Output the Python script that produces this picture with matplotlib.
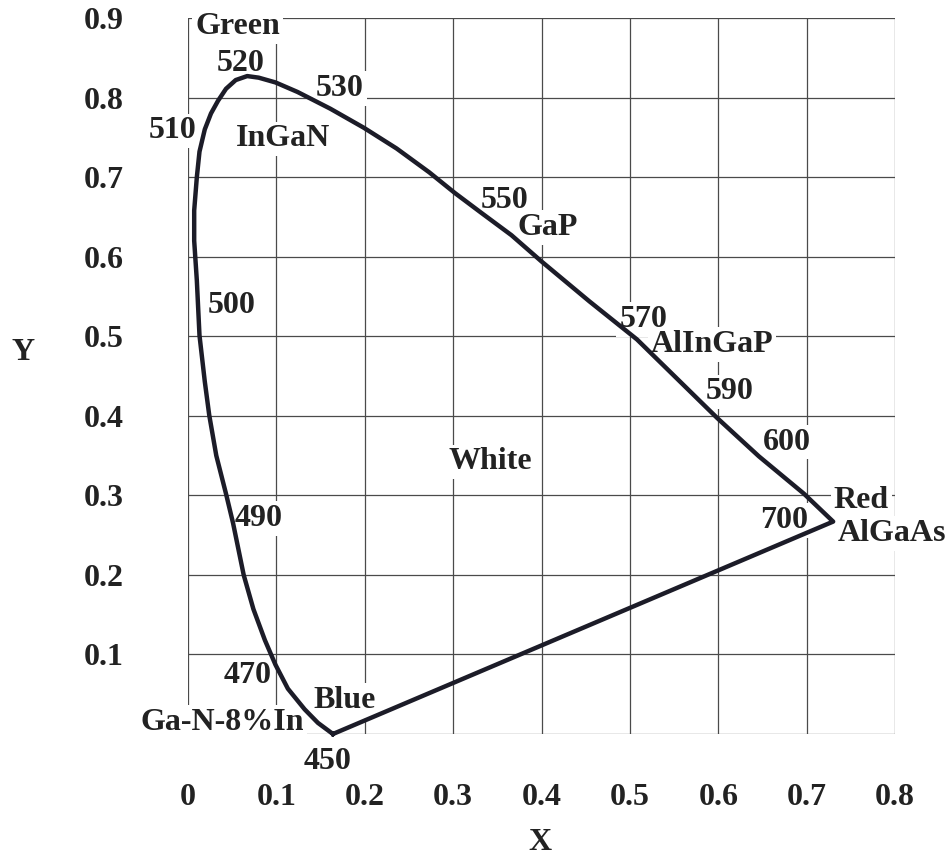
import matplotlib
matplotlib.use("Agg")
import matplotlib.pyplot as plt

plt.rcParams['font.family'] = ['Liberation Serif', 'DejaVu Serif']
plt.rcParams['font.weight'] = 'bold'

# Spectral locus (x, y), traced from 450 nm up the blue-green side,
# over the 520 nm peak and down to 700 nm
locus_x = [0.164, 0.147, 0.132, 0.113, 0.099, 0.087, 0.074, 0.063, 0.051, 0.043,
           0.032, 0.024, 0.019, 0.013, 0.010, 0.007, 0.007, 0.010, 0.013, 0.019,
           0.026, 0.034, 0.043, 0.054, 0.067, 0.080, 0.099, 0.124, 0.161,
           0.199, 0.236, 0.273, 0.302, 0.332, 0.366, 0.400, 0.454, 0.508,
           0.599, 0.646, 0.697, 0.730]
locus_y = [0.000, 0.014, 0.031, 0.057, 0.087, 0.118, 0.157, 0.200, 0.265, 0.302,
           0.350, 0.401, 0.443, 0.501, 0.570, 0.620, 0.658, 0.700, 0.732, 0.760,
           0.780, 0.796, 0.811, 0.822, 0.827, 0.825, 0.819, 0.807, 0.786,
           0.762, 0.736, 0.706, 0.680, 0.655, 0.627, 0.594, 0.544, 0.496,
           0.397, 0.349, 0.302, 0.267]

# Annotations: text and position in chromaticity coordinates
label_text = ["Green", "520", "530", "510", "InGaN", "550", "GaP", "500", "570",
              "AlInGaP", "590", "600", "Red", "700", "AlGaAs", "White", "490",
              "470", "Blue", "Ga-N-8%In", "450"]
label_x = [0.056, 0.060, 0.172, -0.018, 0.108, 0.358, 0.407, 0.049, 0.515,
           0.593, 0.613, 0.678, 0.762, 0.674, 0.797, 0.342, 0.080,
           0.067, 0.177, 0.039, 0.158]
label_y = [0.889, 0.843, 0.811, 0.758, 0.748, 0.670, 0.637, 0.539, 0.521,
           0.490, 0.430, 0.367, 0.294, 0.268, 0.252, 0.342, 0.271,
           0.074, 0.042, 0.014, -0.034]

x_ticks = [0, 0.1, 0.2, 0.3, 0.4, 0.5, 0.6, 0.7, 0.8]
x_tick_labels = ["0", "0.1", "0.2", "0.3", "0.4", "0.5", "0.6", "0.7", "0.8"]
y_ticks = [0.1, 0.2, 0.3, 0.4, 0.5, 0.6, 0.7, 0.8, 0.9]
y_tick_labels = ["0.1", "0.2", "0.3", "0.4", "0.5", "0.6", "0.7", "0.8", "0.9"]

FS = 23
ink = '#1c1c28'
text_col = '#222222'

fig = plt.figure(figsize=(9.52, 8.58), dpi=100)
ax = fig.add_axes([188 / 952, 1 - 734 / 858, 707 / 952, 716 / 858])
ax.set_xlim(0, 0.8)
ax.set_ylim(0, 0.9)
for s in ax.spines.values():
    s.set_visible(False)

# Grid, including the outer frame lines
for gx in x_ticks:
    ax.axvline(gx, color='#4a4a4a', lw=0.9, zorder=1)
for gy in [0] + y_ticks:
    ax.axhline(gy, color='#4a4a4a', lw=0.9, zorder=1)

# Closed boundary: spectral locus plus the purple line back to 450 nm
px = locus_x + [locus_x[0]]
py = locus_y + [locus_y[0]]
ax.plot(px, py, color=ink, lw=3.2, solid_joinstyle='round', zorder=6, clip_on=False)

for t, lx, ly in zip(label_text, label_x, label_y):
    ax.text(lx, ly, t, ha='center', va='center', fontsize=FS, fontweight='bold',
            color=text_col, zorder=5,
            bbox=dict(facecolor='white', edgecolor='none', pad=2))

ax.set_xticks(x_ticks)
ax.set_xticklabels(x_tick_labels)
ax.set_yticks(y_ticks)
ax.set_yticklabels(y_tick_labels)
ax.tick_params(axis='both', length=0, labelsize=FS, colors=text_col)
ax.tick_params(axis='x', pad=35)
ax.tick_params(axis='y', pad=46)
for lab in ax.get_xticklabels() + ax.get_yticklabels():
    lab.set_fontweight('bold')

fig.text(540 / 952, 1 - 843 / 858, "X", ha='center', va='center', fontsize=FS,
         fontweight='bold', color=text_col)
fig.text(23 / 952, 1 - 352 / 858, "Y", ha='center', va='center', fontsize=FS,
         fontweight='bold', color=text_col)

fig.savefig("out.png", dpi=100, facecolor='white')
